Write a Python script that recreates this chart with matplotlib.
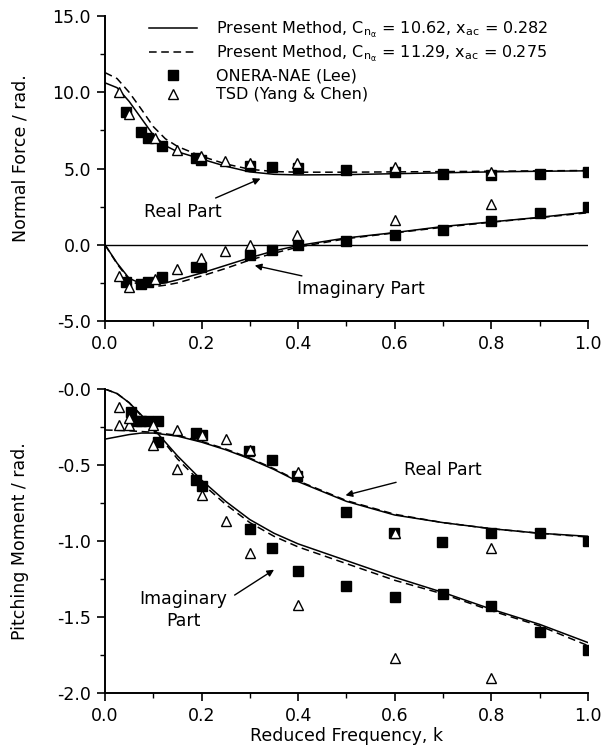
import numpy as np
import matplotlib
matplotlib.use("Agg")
import matplotlib.pyplot as plt
from matplotlib.lines import Line2D
from matplotlib.ticker import MultipleLocator, FixedLocator, FixedFormatter

# ---------------- data ----------------
# Normal force, present method (solid: Cna=10.62, dashed: Cna=11.29)
k_nf = [0.0, 0.025, 0.05, 0.075, 0.1, 0.125, 0.15, 0.2, 0.25, 0.3, 0.35,
        0.4, 0.5, 0.6, 0.7, 0.8, 0.9, 1.0]
nf_re_solid = [10.62, 10.3, 9.4, 8.3, 7.2, 6.5, 6.1, 5.62, 5.15, 4.78, 4.62,
               4.58, 4.6, 4.66, 4.72, 4.78, 4.82, 4.85]
nf_re_dash = [11.29, 10.9, 10.0, 8.9, 7.75, 6.95, 6.45, 5.8, 5.3, 4.95, 4.8,
              4.76, 4.76, 4.78, 4.8, 4.82, 4.85, 4.87]
nf_im_solid = [0.0, -1.2, -2.2, -2.55, -2.6, -2.5, -2.3, -1.85, -1.35, -0.85,
               -0.4, -0.05, 0.45, 0.8, 1.2, 1.5, 1.8, 2.15]
nf_im_dash = [0.0, -1.25, -2.3, -2.7, -2.75, -2.65, -2.5, -2.05, -1.55, -1.0,
              -0.55, -0.15, 0.4, 0.78, 1.15, 1.48, 1.78, 2.1]

# ONERA-NAE (Lee), normal force
lee_nf_k_re = [0.044, 0.074, 0.089, 0.119, 0.189, 0.199, 0.3, 0.345, 0.4,
               0.5, 0.6, 0.7, 0.8, 0.9, 1.0]
lee_nf_re = [8.68, 7.41, 6.97, 6.47, 5.70, 5.55, 5.15, 5.07, 5.05,
             4.93, 4.75, 4.62, 4.55, 4.62, 4.77]
lee_nf_k_im = [0.044, 0.074, 0.089, 0.119, 0.189, 0.199, 0.3, 0.345, 0.4,
               0.5, 0.6, 0.7, 0.8, 0.9, 1.0]
lee_nf_im = [-2.46, -2.57, -2.46, -2.13, -1.43, -1.43, -0.64, -0.33, 0.0,
             0.28, 0.61, 0.99, 1.55, 2.10, 2.47]

# TSD (Yang & Chen), normal force
tsd_nf_k = [0.028, 0.05, 0.103, 0.149, 0.199, 0.248, 0.3, 0.398, 0.6, 0.8]
tsd_nf_re = [10.0, 8.55, 6.97, 6.2, 5.81, 5.50, 5.39, 5.33, 5.10, 4.77]
tsd_nf_im = [-2.08, -2.78, -2.24, -1.58, -0.88, -0.44, -0.04, 0.61, 1.6, 2.65]

# Pitching moment, present method
k_pm = [0.0, 0.025, 0.05, 0.075, 0.1, 0.125, 0.15, 0.2, 0.25, 0.3, 0.35,
        0.4, 0.5, 0.6, 0.7, 0.8, 0.9, 1.0]
pm_re_solid = [-0.33, -0.315, -0.30, -0.29, -0.29, -0.30, -0.31, -0.35, -0.40,
               -0.46, -0.53, -0.61, -0.74, -0.83, -0.88, -0.92, -0.95, -0.97]
pm_re_dash = [-0.27, -0.272, -0.275, -0.28, -0.285, -0.295, -0.305, -0.345,
              -0.395, -0.455, -0.525, -0.605, -0.735, -0.825, -0.88, -0.92,
              -0.95, -0.975]
pm_im_solid = [0.0, -0.03, -0.09, -0.17, -0.26, -0.35, -0.44, -0.6, -0.74,
               -0.86, -0.95, -1.02, -1.13, -1.24, -1.34, -1.45, -1.55, -1.67]
pm_im_dash = [0.0, -0.03, -0.09, -0.175, -0.27, -0.36, -0.46, -0.62, -0.76,
              -0.88, -0.97, -1.04, -1.15, -1.26, -1.35, -1.46, -1.56, -1.69]

# ONERA-NAE (Lee), pitching moment
lee_pm_k_re = [0.075, 0.09, 0.11, 0.189, 0.2, 0.298, 0.346, 0.398, 0.5,
               0.598, 0.698, 0.8, 0.9, 1.0]
lee_pm_re = [-0.21, -0.21, -0.21, -0.29, -0.30, -0.41, -0.47, -0.57, -0.81,
             -0.95, -1.01, -0.95, -0.95, -1.0]
lee_pm_k_im = [0.053, 0.066, 0.11, 0.189, 0.2, 0.3, 0.346, 0.4, 0.5, 0.6,
               0.7, 0.8, 0.9, 1.0]
lee_pm_im = [-0.15, -0.21, -0.35, -0.60, -0.64, -0.92, -1.05, -1.20, -1.30,
             -1.37, -1.35, -1.43, -1.60, -1.72]

# TSD (Yang & Chen), pitching moment
tsd_pm_k = [0.03, 0.05, 0.1, 0.15, 0.2, 0.25, 0.3, 0.4, 0.6, 0.8]
tsd_pm_re = [-0.24, -0.24, -0.24, -0.27, -0.30, -0.33, -0.40, -0.545, -0.95, -1.05]
tsd_pm_im = [-0.12, -0.19, -0.37, -0.53, -0.70, -0.87, -1.08, -1.42, -1.77, -1.905]

nf_yticks = [-5.0, 0.0, 5.0, 10.0, 15.0]
nf_ylabels = ["-5.0", "0.0", "5.0", "10.0", "15.0"]
pm_yticks = [-2.0, -1.5, -1.0, -0.5, 0.0]
pm_ylabels = ["-2.0", "-1.5", "-1.0", "-0.5", "-0.0"]
xticks = [0.0, 0.2, 0.4, 0.6, 0.8, 1.0]
xlabels = ["0.0", "0.2", "0.4", "0.6", "0.8", "1.0"]

leg_labels = [r"Present Method, C$_{n_\alpha}$ = 10.62, x$_{ac}$ = 0.282",
              r"Present Method, C$_{n_\alpha}$ = 11.29, x$_{ac}$ = 0.275",
              "ONERA-NAE (Lee)",
              "TSD (Yang & Chen)"]

# ---------------- style ----------------
plt.rcParams["font.family"] = ["DejaVu Sans"]
plt.rcParams["mathtext.default"] = "regular"
FS = 12.5
LW = 1.1
sq = dict(ls="none", marker="s", ms=6.5, mfc="black", mec="black", zorder=4)
tri = dict(ls="none", marker="^", ms=7, mfc="white", mec="black", mew=1.0, zorder=5)


def style_axes(ax, yticks, ylabels, minor_y):
    for s in ["top", "right"]:
        ax.spines[s].set_visible(False)
    for s in ["left", "bottom"]:
        ax.spines[s].set_linewidth(1.4)
    ax.set_xlim(0, 1.0)
    ax.xaxis.set_major_locator(FixedLocator(xticks))
    ax.xaxis.set_major_formatter(FixedFormatter(xlabels))
    ax.xaxis.set_minor_locator(MultipleLocator(0.1))
    ax.yaxis.set_major_locator(FixedLocator(yticks))
    ax.yaxis.set_major_formatter(FixedFormatter(ylabels))
    ax.yaxis.set_minor_locator(MultipleLocator(minor_y))
    ax.tick_params(which="major", direction="out", length=6, width=1.2,
                   labelsize=FS, pad=4)
    ax.tick_params(which="minor", direction="out", length=3.5, width=1.0)


fig = plt.figure(figsize=(6.02, 7.49), dpi=100)

# ---- top: normal force ----
ax1 = fig.add_axes([0.1744, 0.5714, 0.8023, 0.4072])
ax1.set_ylim(-5, 15)
ax1.axhline(0, color="black", lw=1.0, zorder=1)
ax1.plot(k_nf, nf_re_solid, "k-", lw=LW)
ax1.plot(k_nf, nf_re_dash, "k--", lw=LW, dashes=(5, 3))
ax1.plot(k_nf, nf_im_solid, "k-", lw=LW)
ax1.plot(k_nf, nf_im_dash, "k--", lw=LW, dashes=(5, 3))
ax1.plot(lee_nf_k_re, lee_nf_re, **sq)
ax1.plot(lee_nf_k_im, lee_nf_im, **sq)
ax1.plot(tsd_nf_k, tsd_nf_re, **tri)
ax1.plot(tsd_nf_k, tsd_nf_im, **tri)
style_axes(ax1, nf_yticks, nf_ylabels, 2.5)
ax1.set_ylabel("Normal Force / rad.", fontsize=FS)
ax1.yaxis.set_label_coords(-0.157, 0.535)

ax1.annotate("Real Part", xy=(0.322, 4.34), xytext=(0.162, 2.15),
             fontsize=FS, ha="center", va="center",
             arrowprops=dict(arrowstyle="-|>", color="black", lw=1.0,
                             shrinkA=4, shrinkB=0, mutation_scale=10))
ax1.annotate("Imaginary Part", xy=(0.31, -1.36), xytext=(0.53, -2.89),
             fontsize=FS, ha="center", va="center",
             arrowprops=dict(arrowstyle="-|>", color="black", lw=1.0,
                             shrinkA=4, shrinkB=0, mutation_scale=10))

handles = [Line2D([], [], color="black", lw=LW),
           Line2D([], [], color="black", lw=LW, ls="--", dashes=(5, 3)),
           Line2D([], [], **sq),
           Line2D([], [], **tri)]
ax1.legend(handles, leg_labels, loc="upper left", bbox_to_anchor=(0.085, 1.0),
           frameon=False, fontsize=11.5, handlelength=3.0, handletextpad=1.2,
           labelspacing=0.25, borderpad=0.2, borderaxespad=0.0)

# ---- bottom: pitching moment ----
ax2 = fig.add_axes([0.1744, 0.0752, 0.8023, 0.4054])
ax2.set_ylim(-2, 0)
ax2.plot(k_pm, pm_re_solid, "k-", lw=LW)
ax2.plot(k_pm, pm_re_dash, "k--", lw=LW, dashes=(5, 3))
ax2.plot(k_pm, pm_im_solid, "k-", lw=LW)
ax2.plot(k_pm, pm_im_dash, "k--", lw=LW, dashes=(5, 3))
ax2.plot(lee_pm_k_re, lee_pm_re, **sq)
ax2.plot(lee_pm_k_im, lee_pm_im, **sq)
ax2.plot(tsd_pm_k, tsd_pm_re, **tri)
ax2.plot(tsd_pm_k, tsd_pm_im, **tri)
style_axes(ax2, pm_yticks, pm_ylabels, 0.25)
ax2.set_ylabel("Pitching Moment / rad.", fontsize=FS)
ax2.yaxis.set_label_coords(-0.157, 0.5)
ax2.set_xlabel("Reduced Frequency, k", fontsize=FS, labelpad=2)

ax2.annotate("Real Part", xy=(0.498, -0.70), xytext=(0.70, -0.535),
             fontsize=FS, ha="center", va="center",
             arrowprops=dict(arrowstyle="-|>", color="black", lw=1.0,
                             shrinkA=4, shrinkB=0, mutation_scale=10))
ax2.annotate("Imaginary\nPart", xy=(0.35, -1.19), xytext=(0.162, -1.455),
             fontsize=FS, ha="center", va="center", linespacing=1.3,
             arrowprops=dict(arrowstyle="-|>", color="black", lw=1.0,
                             shrinkA=4, shrinkB=0, mutation_scale=10,
                             relpos=(1.0, 0.75)))

fig.savefig("out.png", dpi=100)
